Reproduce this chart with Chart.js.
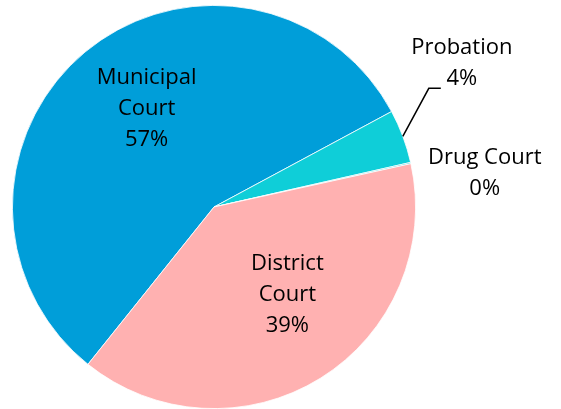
<!DOCTYPE html>
<html>
<head>
<meta charset="utf-8">
<style>
  html, body { margin: 0; padding: 0; background: #fff; }
  #wrap { width: 561px; height: 409px; }
</style>
<script src="https://cdn.jsdelivr.net/npm/chart.js@4"></script>
</head>
<body>
<div id="wrap"><canvas id="myChart" width="561" height="409"></canvas></div>
<script>
const courts = ['Municipal Court', 'Probation', 'Drug Court', 'District Court'];
const shares = [56.4, 4.3, 0.1, 39.2];
const shownPct = ['57%', '4%', '0%', '39%'];
const colors = ['#009ED9', '#0FCED8', '#0FCED8', '#FFB1B1'];

// label lines per slice
const labelLines = [['Municipal', 'Court'], ['Probation'], ['Drug Court'], ['District', 'Court']];

const sliceLabels = {
  id: 'sliceLabels',
  afterDatasetsDraw(chart) {
    const c = chart.ctx;
    const arcs = chart.getDatasetMeta(0).data;
    c.save();
    c.font = '22px "Open Sans"';
    c.fillStyle = '#000';
    c.textAlign = 'center';
    c.textBaseline = 'middle';
    const lh = 31;
    arcs.forEach((a, i) => {
      const mid = (a.startAngle + a.endAngle) / 2;
      const r = a.outerRadius;
      const lines = labelLines[i].concat([shownPct[i]]);
      const ex = a.x + Math.cos(mid) * r;
      const ey = a.y + Math.sin(mid) * r;
      let x, y;
      if (i === 0) {
        x = a.x + Math.cos(mid) * r * 0.6 + 10;
        y = a.y + Math.sin(mid) * r * 0.6 - 5;
      } else if (i === 3) {
        x = a.x + Math.cos(mid) * r * 0.52 + 18;
        y = a.y + Math.sin(mid) * r * 0.52 - 1;
      } else if (i === 1) {
        // leader line from slice edge
        c.strokeStyle = '#000';
        c.lineWidth = 1.5;
        c.beginPath();
        c.moveTo(ex, ey);
        c.lineTo(ex + 26, ey - 48);
        c.lineTo(ex + 38, ey - 48);
        c.stroke();
        x = ex + 59;
        y = ey - 73.5;
      } else {
        x = ex + 74;
        y = ey + 10;
      }
      const y0 = y - (lines.length - 1) * lh / 2;
      lines.forEach((t, j) => c.fillText(t, x, y0 + j * lh));
    });
    c.restore();
  }
};

const ctx = document.getElementById('myChart').getContext('2d');
const chart = new Chart(ctx, {
  type: 'pie',
  data: {
    labels: courts,
    datasets: [{
      data: shares,
      backgroundColor: colors,
      borderColor: '#ffffff',
      borderWidth: 0.8
    }]
  },
  options: {
    responsive: false,
    animation: false,
    rotation: 218.7,
    layout: { padding: { left: 12, right: 145, top: 5, bottom: 0 } },
    plugins: {
      legend: { display: false },
      tooltip: { enabled: false }
    }
  },
  plugins: [sliceLabels]
});
</script>
</body>
</html>
